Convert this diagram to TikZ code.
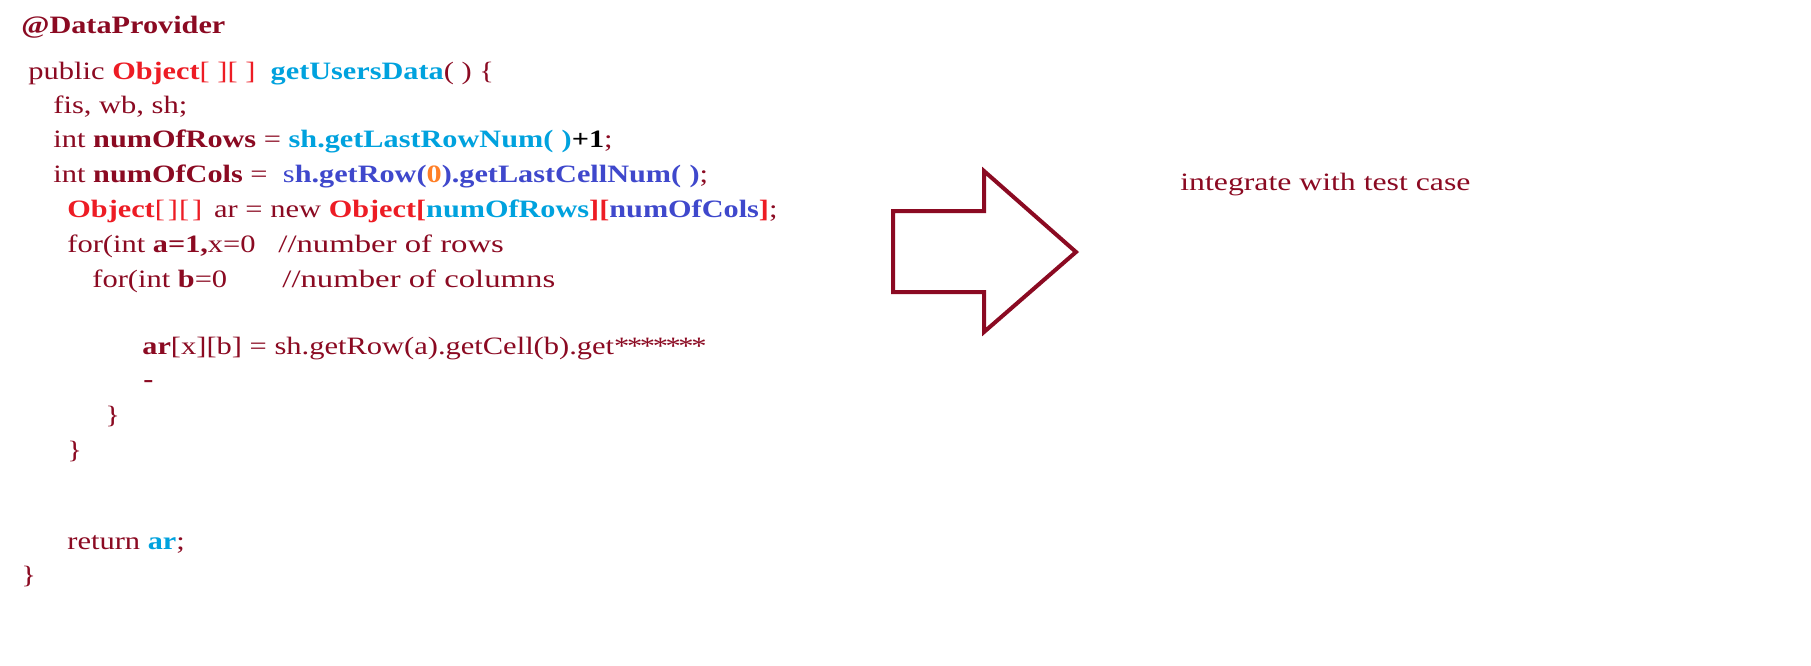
\documentclass[tikz,border=0pt]{standalone}
\usepackage{fontspec}
\setmainfont{Liberation Serif}[FakeStretch=1.22,BoldFeatures={FakeStretch=1.21}]
\newfontfamily\cmtfont{Liberation Serif}[FakeStretch=1.31]
\newfontfamily\notefont{Liberation Serif}[FakeStretch=1.27]
\usetikzlibrary{positioning}
\definecolor{codered}{RGB}{139,10,34}
\definecolor{objred}{RGB}{237,28,36}
\definecolor{callblue}{RGB}{0,162,222}
\definecolor{colblue}{RGB}{63,72,204}
\definecolor{zeroorange}{RGB}{255,127,39}
\newcommand{\objw}[1]{\textcolor{objred}{\textbf{#1}}}
\newcommand{\brk}[1]{\textcolor{objred}{#1}}
\newcommand{\callw}[1]{\textcolor{callblue}{\textbf{#1}}}
\newcommand{\colw}[1]{\textcolor{colblue}{\textbf{#1}}}
\newcommand{\emptybr}{[\kern1.5pt]\kern0.5pt[\kern1.5pt]}
\newcommand{\stars}{*\kern-1.2pt*\kern-1.2pt*\kern-1.2pt*\kern-1.2pt*\kern-1.2pt*\kern-1.2pt*}
\tikzset{
    code/.style =   {font=\fontsize{12.5pt}{15pt}\selectfont,
                    text=codered,
                    inner sep=0pt,
                    anchor=base west},
    comment/.style = {code,
                    font=\fontsize{12.5pt}{15pt}\cmtfont},
    blockarrow/.style = {draw=codered,
                    line width=2pt,
                    line join=miter,
                    fill=white},
    -}

\begin{document}
\begin{tikzpicture}[x=0.5pt,y=-0.5pt]
            \useasboundingbox [fill=white] (0,0) rectangle (1811,665);
            % method text
            \node[code]     (anno)   at (21,33)   {\textbf{@DataProvider}};
            \node[code]     (sig)    at (28,79)   {public \objw{Object}\brk{[ ][ ]}\ \ \callw{getUsersData}( ) \{};
            \node[code]     (decl)   at (53,113)  {fis, wb, sh;};
            \node[code]     (rows)   at (53,147)  {int \textbf{numOfRows} = \callw{sh.getLastRowNum(\,\,)}\textcolor{black}{\textbf{+1}};};
            \node[code]     (cols)   at (53,182)  {int \textbf{numOfCols} =\ \ \textcolor{colblue}{s}\colw{h.getRow(}\textcolor{zeroorange}{\textbf{0}}\colw{).getLastCellNum(\,\,)};};
            \node[code]     (arr)    at (67,217)  {\objw{Object}\brk{\emptybr}\ \,ar = new \objw{Object[}\callw{numOfRows}\objw{][}\colw{numOfCols}\objw{]};};
            \node[code]     (loopA)  at (67,252)  {for(int \textbf{a=1,}x=0};
            \node[comment]  (cmtA)   at (278,252) {//number of rows};
            \node[code]     (loopB)  at (92,287)  {for(int \textbf{b}=0};
            \node[comment]  (cmtB)   at (282,287) {//number of columns};
            \node[code]     (assign) at (142,354) {\textbf{ar}[x][b] = sh.getRow(a).getCell(b).get\stars};
            \node[code]     (dash)   at (143,387) {\textbf{-}};
            \node[code]     (closeB) at (105,423) {\}};
            \node[code]     (closeA) at (67,458)  {\}};
            \node[code]     (ret)    at (67,549)  {return \callw{ar};};
            \node[code]     (closeM) at (21,583)  {\}};
            \node[code, font=\fontsize{12.5pt}{15pt}\notefont]
                            (note)   at (1180,190) {integrate with test case};

            % block arrow
            \draw[blockarrow] (893,211) -- (984,211) -- (984,171) -- (1076,252)
                              -- (984,332) -- (984,292) -- (893,292) -- cycle;
\end{tikzpicture}
\end{document}
